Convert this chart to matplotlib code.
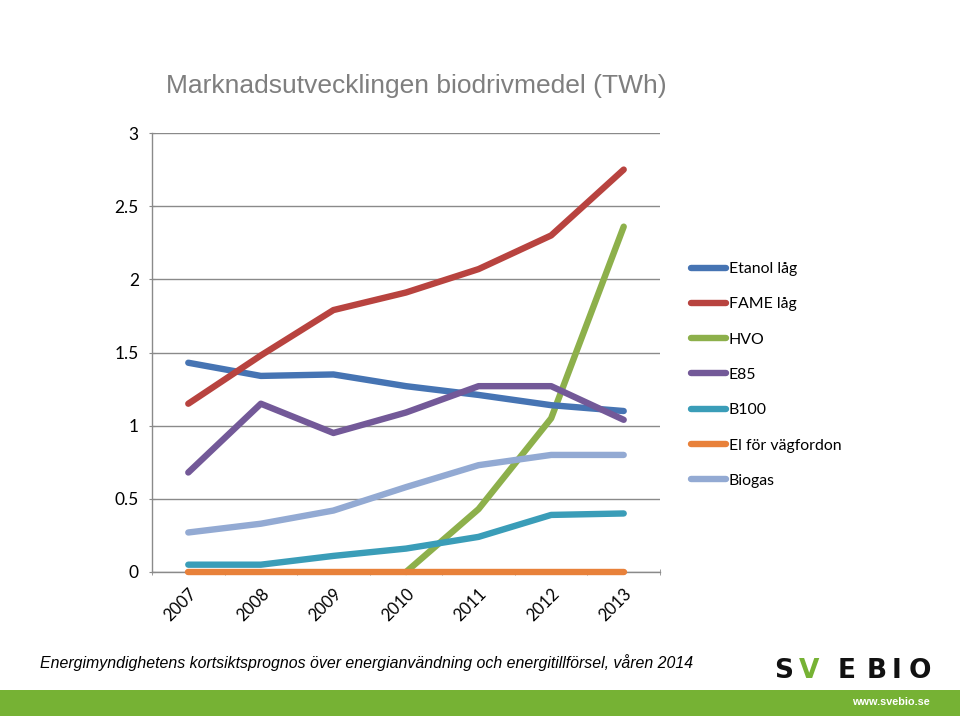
import matplotlib
matplotlib.use("Agg")
import matplotlib.pyplot as plt
from matplotlib.patches import Rectangle
import numpy as np

years = ["2007", "2008", "2009", "2010", "2011", "2012", "2013"]
etanol = [1.43, 1.34, 1.35, 1.27, 1.21, 1.14, 1.10]
fame = [1.15, 1.48, 1.79, 1.91, 2.07, 2.30, 2.75]
hvo = [0.0, 0.0, 0.0, 0.0, 0.43, 1.05, 2.36]
e85 = [0.68, 1.15, 0.95, 1.09, 1.27, 1.27, 1.04]
b100 = [0.05, 0.05, 0.11, 0.16, 0.24, 0.39, 0.40]
el = [0.0, 0.0, 0.0, 0.0, 0.0, 0.0, 0.0]
biogas = [0.27, 0.33, 0.42, 0.58, 0.73, 0.80, 0.80]

series = [
    ("Etanol låg", etanol, "#4674B3"),
    ("FAME låg", fame, "#B8433F"),
    ("HVO", hvo, "#8DB04B"),
    ("E85", e85, "#735998"),
    ("B100", b100, "#3A9DB8"),
    ("El för vägfordon", el, "#E8813A"),
    ("Biogas", biogas, "#93AAD3"),
]
yticks = [0, 0.5, 1, 1.5, 2, 2.5, 3]
title = "Marknadsutvecklingen biodrivmedel (TWh)"
source = "Energimyndighetens kortsiktsprognos över energianvändning och energitillförsel, våren 2014"

W, H = 960, 716
fig = plt.figure(figsize=(W / 100, H / 100), dpi=100)
ax = fig.add_axes([152 / W, 1 - 572 / H, (660 - 152) / W, (572 - 133) / H])

x = np.arange(len(years))
hvo_plot = [v if i >= 3 else np.nan for i, v in enumerate(hvo)]
zorders = [3, 3, 2, 3, 3, 4, 3]
handles = []
for (name, vals, col), z in zip(series, zorders):
    vv = hvo_plot if name == "HVO" else vals
    ln, = ax.plot(x, vv, color=col, lw=4.6, solid_capstyle="round",
                  solid_joinstyle="round", zorder=z, clip_on=False, label=name)
    handles.append(ln)

ax.set_xlim(-0.5, len(years) - 0.5)
ax.set_ylim(0, 3)
ax.set_yticks(yticks)
ax.set_yticklabels([f"{t:g}" for t in yticks])
ax.grid(axis="y", color="#8a8a8a", lw=1.0, zorder=0)
ax.set_axisbelow(True)
for s in ["top", "right"]:
    ax.spines[s].set_visible(False)
for s in ["left", "bottom"]:
    ax.spines[s].set_color("#8a8a8a")
    ax.spines[s].set_linewidth(1.0)

ax.set_xticks(x)
ax.set_xticklabels(years, rotation=45, ha="right", rotation_mode="anchor",
                   fontsize=12, family="Lato")
ax.tick_params(axis="x", length=0, pad=10)
ax.set_xticks(np.arange(-0.5, len(years) + 0.5, 1), minor=True)
ax.tick_params(axis="x", which="minor", length=5, direction="inout", color="#8a8a8a")
ax.tick_params(axis="y", length=5, direction="inout", color="#8a8a8a",
               labelsize=12.5, pad=7)
for lab in ax.get_yticklabels():
    lab.set_family("Lato")

fig.legend(handles=handles, loc="upper left", bbox_to_anchor=(691 / W, 1 - 262 / H),
           frameon=False, borderpad=0, borderaxespad=0, handlelength=2.2,
           handletextpad=0.2, labelspacing=1.34, prop={"family": "Lato", "size": 11.4})

fig.text(166 / W, 1 - 86 / H, title, fontsize=19, color="#7f7f7f",
         family="Liberation Sans", va="center", ha="left")
fig.text(40 / W, 1 - 663 / H, source, fontsize=11.4, style="italic", color="black",
         family="Liberation Sans", va="center", ha="left")

# footer bar
fig.patches.append(Rectangle((0, 0), 1, (716 - 690) / H, transform=fig.transFigure,
                             facecolor="#76B234", edgecolor="none", zorder=0))
fig.text(930 / W, 1 - 702 / H, "www.svebio.se", fontsize=7.8, color="white",
         weight="bold", family="Liberation Sans", ha="right", va="center")
# logo
for ch, xp, col in [("S", 784, "#111111"), ("V", 809, "#76B234"), ("E", 847, "#111111"),
                    ("B", 877, "#111111"), ("I", 897, "#111111"), ("O", 920, "#111111")]:
    fig.text(xp / W, 1 - 671 / H, ch, fontsize=19, weight="heavy", color=col,
             family="DejaVu Sans", ha="center", va="center")

fig.savefig("out.png", dpi=100)
